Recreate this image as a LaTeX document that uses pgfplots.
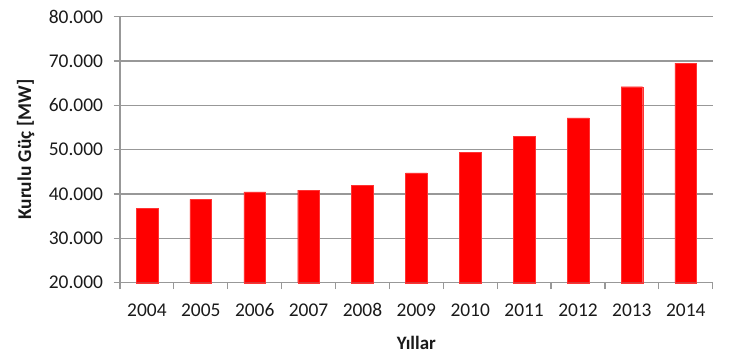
\documentclass[border=0pt]{standalone}
\usepackage{pgfplots}
\pgfplotsset{compat=1.18}
\usepackage{fontspec}
\setmainfont{Carlito}
\definecolor{gridgray}{HTML}{989898}
\definecolor{txt}{HTML}{1A1A1A}
\begin{document}
\begin{tikzpicture}
\useasboundingbox (0,0) rectangle (732bp,357bp);
\begin{axis}[
  at={(120bp,74.3bp)}, anchor=south west,
  scale only axis, width=592.7bp, height=266bp,
  xmin=-0.5, xmax=10.5, ymin=20000, ymax=80000,
  axis x line*=bottom, axis y line*=left,
  axis line style={gridgray, line width=1.2pt},
  xtick={0,...,10},
  xticklabels={2004,2005,2006,2007,2008,2009,2010,2011,2012,2013,2014},
  major x tick style={draw=none},
  minor xtick={-0.5,0.5,...,10.5},
  minor x tick style={gridgray, line width=1.2pt},
  minor tick length=6.5bp,
  ytick={20000,30000,...,80000},
  y tick style={gridgray, line width=1.2pt},
  major tick length=6.5bp,
  tick align=outside,
  ymajorgrids, grid style={gridgray, line width=1.2pt},
  scaled y ticks=false,
  y tick label style={/pgf/number format/fixed, /pgf/number format/1000 sep={.}},
  /pgf/number format/assume math mode=true,
  ticklabel style={font=\fontsize{19.5}{22}\selectfont, text=txt},
  x tick label style={anchor=center, text height=12.5bp, text depth=0bp, yshift=-21bp},
  y tick label style={anchor=east, xshift=-7bp},
  xlabel={\textbf{Yıllar}},
  label style={font=\fontsize{19}{22}\selectfont, text=txt},
  xlabel style={at={(axis description cs:0.5,-0.225)}, anchor=center},
  clip=false,
]
\addplot[ybar, bar width=21.7bp, fill=red, draw=red!80!white, line width=0.4pt] coordinates {
 (0,36700) (1,38800) (2,40500) (3,40900) (4,42000) (5,44800)
 (6,49400) (7,53000) (8,57200) (9,64200) (10,69500)
};
\node[rotate=90, anchor=center, font=\fontsize{19.5}{22}\selectfont\bfseries, text=txt]
  at (axis description cs:-0.159,0.5) {Kurulu Güç [MW]};
\end{axis}
\end{tikzpicture}
\end{document}
